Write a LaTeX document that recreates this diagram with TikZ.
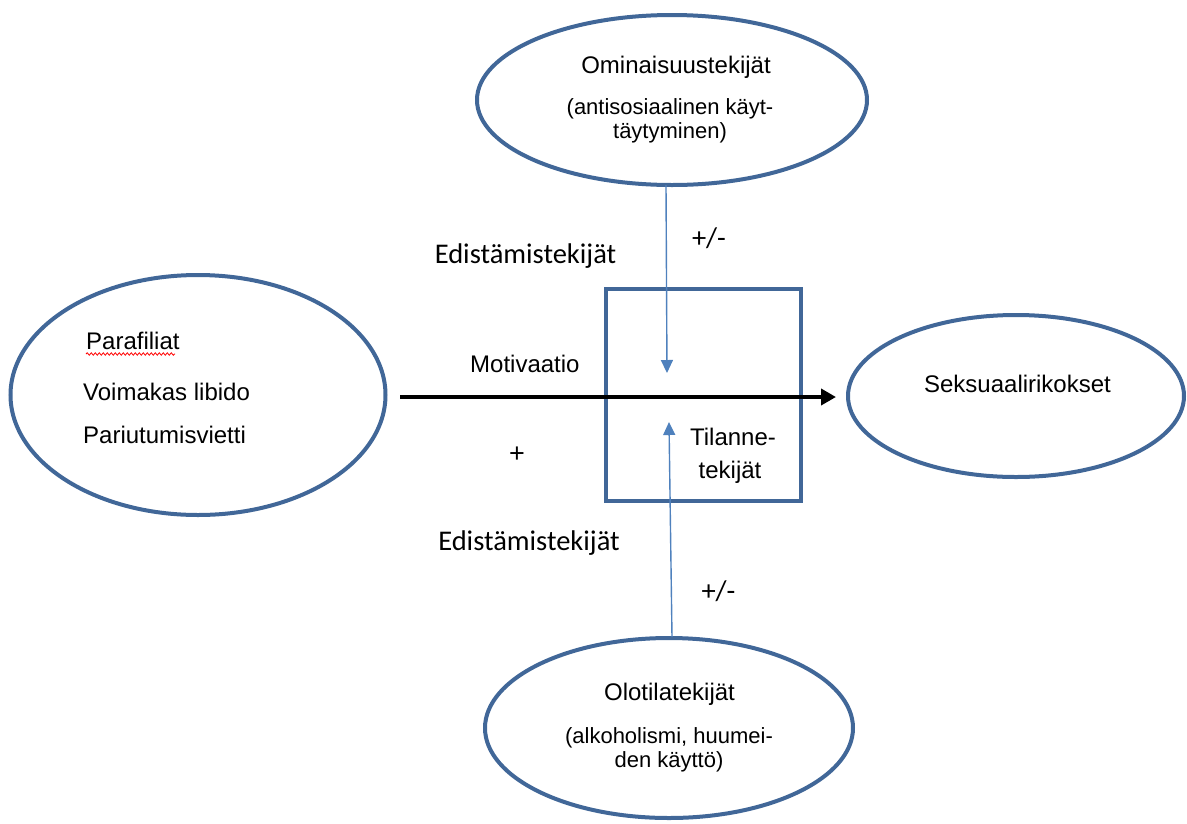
\documentclass[tikz,border=0pt]{standalone}
\usepackage{fontspec}
\setmainfont{Liberation Sans}
\newfontfamily\calib{Carlito}
\usepackage{tikz}
\usetikzlibrary{arrows.meta, shapes.geometric, decorations.pathmorphing}

\definecolor{rim}{RGB}{65,103,152}
\definecolor{thin}{RGB}{79,129,189}

\begin{document}
\begin{tikzpicture}[x=1pt, y=-1pt, every text node part/.style={align=center}]

\tikzstyle{oval}=[draw=rim, line width=4pt, ellipse, inner sep=0pt]
\tikzstyle{txt}=[anchor=base, inner sep=0pt, font=\fontsize{24}{24}\selectfont]
\tikzstyle{small}=[anchor=base, inner sep=0pt, font=\fontsize{22}{24}\selectfont]
\tikzstyle{cal}=[anchor=base, inner sep=0pt, font=\calib\fontsize{28.5}{28.5}\selectfont]
\tikzstyle{arr}=[draw=thin, line width=1.4pt, -{Triangle[length=13pt, width=12pt]}]
\tikzstyle{bigarr}=[draw, line width=4pt, -{Triangle[length=15pt, width=16pt]}]

\useasboundingbox (0, 0) rectangle (1187, 823);

\node (top) [oval, minimum width=390, minimum height=170] at (672, 100) {};
\node (left) [oval, minimum width=375, minimum height=240] at (198, 395) {};
\node (right) [oval, minimum width=336, minimum height=162] at (1016, 396) {};
\node (bottom) [oval, minimum width=368, minimum height=180] at (669, 728) {};
\node (box) [draw=rim, line width=4pt, minimum width=195, minimum height=212,
  inner sep=0pt] at (703.5, 395) {};

\coordinate (tipa) at (667, 373);
\coordinate (tipb) at (669, 422);
\coordinate (src) at (400, 397);
\coordinate (dst) at (836, 397);
\coordinate (topx) at (666, 185);
\coordinate (botx) at (672, 637);

\path [arr] (topx) -- (tipa);
\path [arr] (botx) -- (tipb);
\path [bigarr] (src) -- (dst);

% last line of a two-line node sits on the given y
\node (ominais) [txt] at (676, 73) {Ominaisuustekijät};
\node (antisos) [small] at (670, 138) {(antisosiaalinen käyt-\\täytyminen)};
\node (olotila) [txt] at (669.5, 700) {Olotilatekijät};
\node (alkohol) [small] at (669, 767) {(alkoholismi, huumei-\\den käyttö)};
\node (seksu) [txt] at (1017.5, 392) {Seksuaalirikokset};

\node (para) [txt, anchor=base west] at (86, 349) {Parafiliat};
\node (libido) [txt, anchor=base west] at (83, 400) {Voimakas libido};
\node (pariu) [txt, anchor=base west] at (83, 443) {Pariutumisvietti};
\draw [red, line width=0.8pt, decorate,
  decoration={snake, amplitude=1.2pt, segment length=4pt}]
  (para.base west) ++ (0, 5) -- ++ (89, 0);

\node (motiv) [txt, anchor=base west] at (470, 372) {Motivaatio};
\node (plus) [txt, font=\fontsize{27}{27}\selectfont] at (517, 462) {+};
\node (tilanne) [txt] at (733, 445) {Tilanne-};
\node (tekijat) [txt] at (730, 478) {tekijät};

\node (edis1) [cal] at (525.5, 263) {Edistämistekijät};
\node (pm1) [cal] at (709, 247) {+/-};
\node (edis2) [cal] at (529, 550) {Edistämistekijät};
\node (pm2) [cal] at (718.5, 600) {+/-};

\end{tikzpicture}
\end{document}
